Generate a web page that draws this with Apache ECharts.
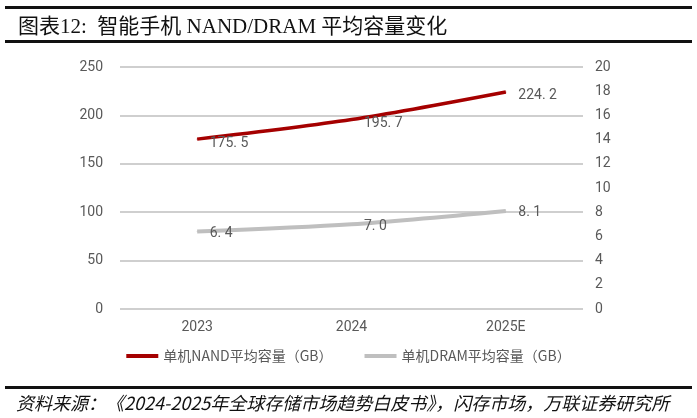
<!DOCTYPE html>
<html>
<head>
<meta charset="utf-8">
<script src="https://cdn.jsdelivr.net/npm/echarts@6/dist/echarts.min.js"></script>
<style>
  html, body { margin: 0; padding: 0; background: #fff; }
  #chart { width: 697px; height: 418px; }
</style>
</head>
<body>
<div id="chart"></div>
<script>
const years = ['2023', '2024', '2025E'];
const nandValues = [175.5, 195.7, 224.2];
const dramValues = [6.4, 7.0, 8.1];
const nandName = '单机NAND平均容量（GB）';
const dramName = '单机DRAM平均容量（GB）';

const chart = echarts.init(document.getElementById('chart'));

const fmt = (p) => p.value.toFixed(1).replace('.', '. ');
const axisText = { color: '#595959', fontSize: 14, fontFamily: 'Roboto, "Noto Sans CJK SC", sans-serif' };

const option = {
  animation: false,
  title: {
    text: '图表12:  智能手机 NAND/DRAM 平均容量变化',
    left: 13,
    top: 12,
    textStyle: {
      fontSize: 21,
      fontWeight: 'normal',
      color: '#111',
      fontFamily: '"Liberation Serif", "Noto Sans CJK SC", serif'
    }
  },
  graphic: [
    { type: 'rect', shape: { x: 5, y: 6, width: 687, height: 3 }, style: { fill: '#111' } },
    { type: 'rect', shape: { x: 5, y: 40, width: 687, height: 3 }, style: { fill: '#111' } },
    { type: 'rect', shape: { x: 5, y: 386, width: 687, height: 3 }, style: { fill: '#111' } },
    {
      type: 'text',
      left: 16,
      top: 394,
      style: {
        text: '资料来源：《2024-2025年全球存储市场趋势白皮书》，闪存市场，万联证券研究所',
        font: 'italic 18px "Noto Sans CJK SC", sans-serif',
        fill: '#111'
      }
    }
  ],
  legend: {
    bottom: 50,
    left: 'center',
    itemGap: 32,
    itemWidth: 32,
    itemHeight: 4,
    icon: 'rect',
    data: [nandName, dramName],
    textStyle: { color: '#595959', fontSize: 14, fontFamily: '"Noto Sans CJK SC", sans-serif' }
  },
  grid: { left: 120, right: 114, top: 67, bottom: 109 },
  xAxis: {
    type: 'category',
    data: years,
    axisLine: { show: false },
    axisTick: { show: false },
    axisLabel: Object.assign({ margin: 12 }, axisText)
  },
  yAxis: [
    {
      type: 'value',
      min: 0,
      max: 250,
      interval: 50,
      axisLine: { show: false },
      axisTick: { show: false },
      axisLabel: Object.assign({ margin: 17 }, axisText),
      splitLine: { lineStyle: { color: '#BFBFBF', width: 1.5 } }
    },
    {
      type: 'value',
      min: 0,
      max: 20,
      interval: 2,
      axisLine: { show: false },
      axisTick: { show: false },
      axisLabel: Object.assign({ margin: 12 }, axisText),
      splitLine: { show: false }
    }
  ],
  series: [
    {
      name: nandName,
      type: 'line',
      yAxisIndex: 0,
      smooth: 0.3,
      symbol: 'circle',
      symbolSize: 1,
      data: nandValues,
      itemStyle: { color: '#A50000' },
      lineStyle: { color: '#A50000', width: 3.5 },
      label: { show: true, position: 'right', distance: 12, offset: [0, 4], formatter: fmt, color: '#595959', fontSize: 14, fontFamily: 'Roboto, sans-serif' }
    },
    {
      name: dramName,
      type: 'line',
      yAxisIndex: 1,
      smooth: 0.3,
      symbol: 'circle',
      symbolSize: 1,
      data: dramValues,
      itemStyle: { color: '#BFBFBF' },
      lineStyle: { color: '#BFBFBF', width: 4 },
      label: { show: true, position: 'right', distance: 12, offset: [0, 2], formatter: fmt, color: '#595959', fontSize: 14, fontFamily: 'Roboto, sans-serif' }
    }
  ]
};

chart.setOption(option);
</script>
</body>
</html>
